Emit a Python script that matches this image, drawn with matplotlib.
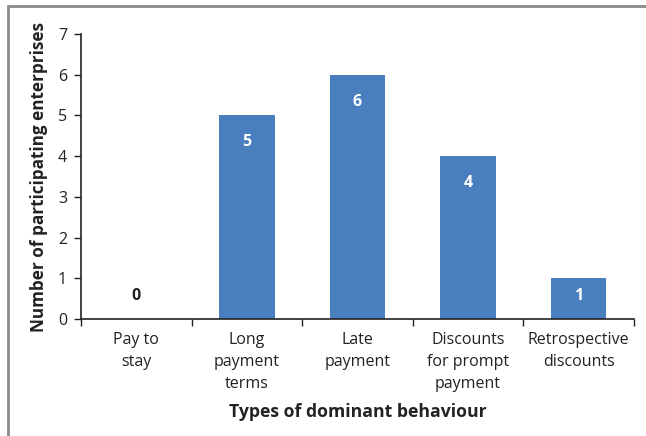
import matplotlib
matplotlib.use("Agg")
import matplotlib.pyplot as plt
from matplotlib.patches import Rectangle

categories = ["Pay to\nstay", "Long\npayment\nterms", "Late\npayment",
              "Discounts\nfor prompt\npayment", "Retrospective\ndiscounts"]
counts = [0, 5, 6, 4, 1]
y_ticks = [0, 1, 2, 3, 4, 5, 6, 7]

plt.rcParams["font.family"] = ["Open Sans", "DejaVu Sans"]

W, H = 646, 436
fig = plt.figure(figsize=(W / 100, H / 100), dpi=100)
fig.patch.set_facecolor("white")

# outer chart frame
fig.add_artist(Rectangle((8 / W, -0.05), 1.1, 1 - 6 / H + 0.05,
                         transform=fig.transFigure, fill=False,
                         edgecolor="#8a8a8a", linewidth=2, clip_on=False))

ax = fig.add_axes([81 / W, 1 - 319 / H, (634 - 81) / W, (319 - 34) / H])
x = list(range(len(categories)))
ax.bar(x, counts, width=0.5, color="#4a7fbf", zorder=2)

ax.set_xlim(-0.5, len(categories) - 0.5)
ax.set_ylim(0, 7)
ax.set_yticks(y_ticks)
ax.tick_params(axis="y", labelsize=11.5, direction="out", length=5,
               width=1, colors="#222222", pad=5)
ax.set_xticks(x)
ax.set_xticklabels(categories, fontsize=11.5, linespacing=1.5, color="#222222")
ax.set_xticks([i - 0.5 for i in range(len(categories) + 1)], minor=True)
ax.tick_params(axis="x", which="major", length=0, pad=9)
ax.tick_params(axis="x", which="minor", direction="out", length=5,
               width=1, colors="#222222")

for s in ("top", "right"):
    ax.spines[s].set_visible(False)
for s in ("left", "bottom"):
    ax.spines[s].set_color("#222222")
    ax.spines[s].set_linewidth(1.2)

for xi, v in zip(x, counts):
    ypos = max(v - 0.66, 0.57)
    ax.text(xi, ypos, str(v), ha="center", va="center", fontsize=11.5,
            fontweight="bold", color="white" if v > 0 else "#222222", zorder=3)

ax.set_ylabel("Number of participating enterprises", fontsize=12.3,
              fontweight="bold", color="#222222", labelpad=7)
fig.text((81 + 634) / 2 / W, 1 - 412 / H, "Types of dominant behaviour",
         ha="center", va="center", fontsize=12.7, fontweight="bold",
         color="#222222")

fig.savefig("out.png", dpi=100)
